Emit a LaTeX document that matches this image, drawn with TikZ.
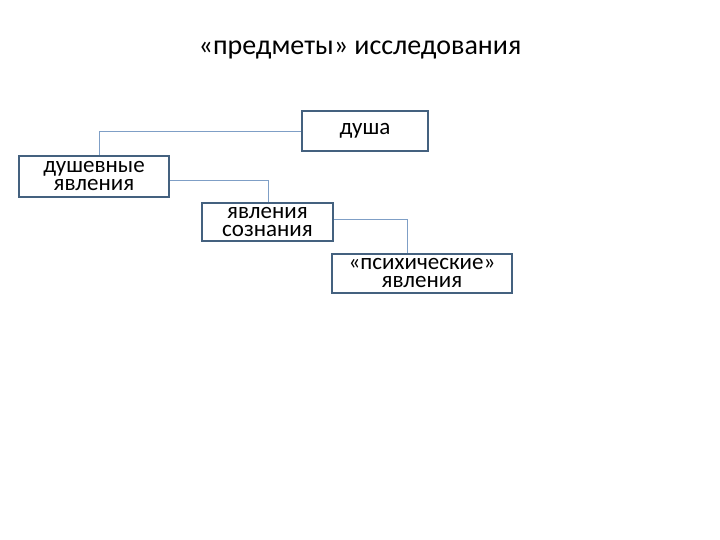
\documentclass[tikz,border=0pt]{standalone}
\usepackage{fontspec}
\setmainfont{Carlito}
\begin{document}
\begin{tikzpicture}[x=1pt,y=-1pt,
  bx/.style={draw=boxc,line width=1.6pt,inner sep=0pt,align=center,font=\fontsize{23}{18}\selectfont},
  ln/.style={draw=linec,line width=0.8pt}]
\definecolor{boxc}{HTML}{44617F}
\definecolor{linec}{HTML}{7F9FC6}
\useasboundingbox (0,0) rectangle (720,540);
\node (t) at (360,50) {\fontsize{28}{30}\selectfont «предметы» исследования};
\node[bx,minimum width=126pt,minimum height=40pt] (a) at (365,131) {душа};
\node[bx,minimum width=150pt,minimum height=41pt] (b) at (94,176.5) {душевные\\явления};
\node[bx,minimum width=131pt,minimum height=38pt] (c) at (267.5,222) {явления\\сознания};
\node[bx,minimum width=180pt,minimum height=39pt] (d) at (422,273.5) {«психические»\\явления};
\coordinate (k1) at (99,131);
\coordinate (k2) at (268,180);
\coordinate (k3) at (407,219);
\draw[ln] (a.west) -- (k1) -- (b.north -| k1);
\draw[ln] (b.east |- k2) -- (k2) -- (c.north -| k2);
\draw[ln] (c.east |- k3) -- (k3) -- (d.north -| k3);
\end{tikzpicture}
\end{document}
